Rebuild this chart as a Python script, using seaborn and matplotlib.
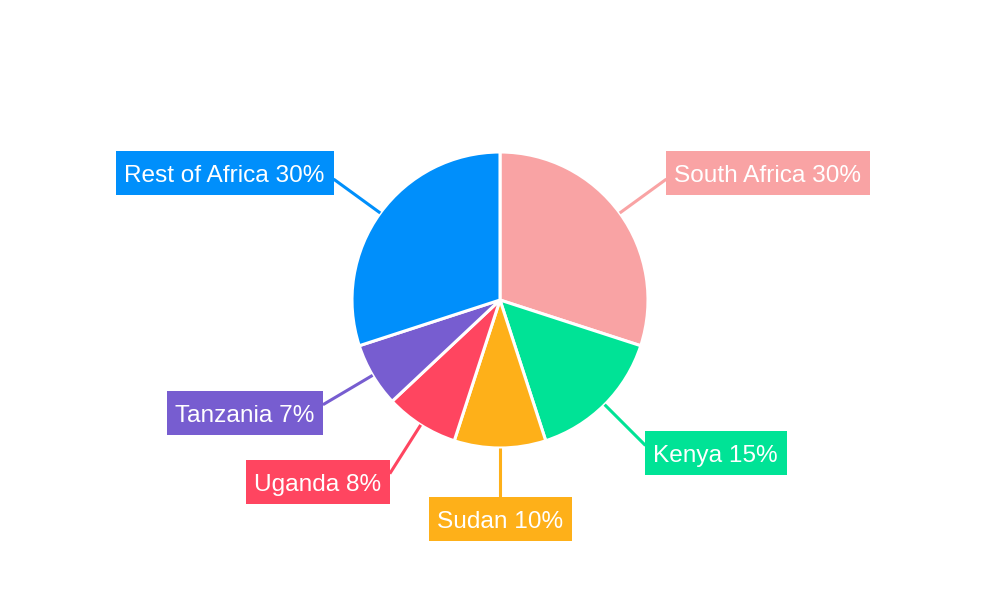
import numpy as np
import seaborn as sns
import matplotlib.pyplot as plt
from matplotlib import font_manager
from matplotlib.patches import Rectangle

# data
regions = ["South Africa", "Kenya", "Sudan", "Uganda", "Tanzania", "Rest of Africa"]
shares = [30, 15, 10, 8, 7, 30]
colors = ["#F9A3A4", "#00E396", "#FEB019", "#FF4560", "#775DD0", "#008FFB"]

sns.set_theme(style="white")
plt.rcParams["font.family"] = ["Liberation Sans", "DejaVu Sans"]

# make sure the regular (not narrow) Liberation Sans is used
reg = [f for f in font_manager.findSystemFonts() if f.endswith("LiberationSans-Regular.ttf")]
font = font_manager.FontProperties(fname=reg[0]) if reg else font_manager.FontProperties(family="Liberation Sans")
font.set_size(17.6)

W, H, R_PX = 1000, 600, 148
fig = plt.figure(figsize=(W / 100, H / 100), dpi=100)
ax = fig.add_axes([0, 0, 1, 1])

ax.pie(shares, colors=colors, startangle=90, counterclock=False, radius=1,
       wedgeprops=dict(edgecolor="white", linewidth=2.2))
ax.set_xlim(-W / 2 / R_PX, W / 2 / R_PX)
ax.set_ylim(-H / 2 / R_PX, H / 2 / R_PX)
ax.set_aspect("equal")
ax.axis("off")

texts = []
cum = 0
for name, s, col in zip(regions, shares, colors):
    mid = np.deg2rad(90 - 360 * (cum + s / 2) / sum(shares))
    cum += s
    c, sn = np.cos(mid), np.sin(mid)
    centre = abs(c) < 0.15
    r_end = 1.33 if centre else 1.39
    ex, ey = r_end * c, r_end * sn
    ax.plot([c, ex], [sn, ey], color=col, lw=2.2, solid_capstyle="butt", zorder=2)
    if centre:
        box_dy = -22
        dx, ha = 0, "center"
    else:
        box_dy = 6 if sn > 0 else -8
        dx, ha = (8, "left") if c > 0 else (-9, "right")
    t = ax.annotate(f"{name} {s}%", xy=(ex, ey), xytext=(dx, box_dy - 9),
                    textcoords="offset pixels", ha=ha, va="baseline",
                    color="white", fontproperties=font, zorder=4)
    texts.append((t, ex, ey, box_dy, col))

fig.canvas.draw()
renderer = fig.canvas.get_renderer()
inv = ax.transData.inverted()
for t, ex, ey, box_dy, col in texts:
    bb = t.get_window_extent(renderer)
    px, py = ax.transData.transform((ex, ey))
    cy = py + box_dy
    (x0, y0) = inv.transform((bb.x0 - 8, cy - 22))
    (x1, y1) = inv.transform((bb.x1 + 9, cy + 22))
    ax.add_patch(Rectangle((x0, y0), x1 - x0, y1 - y0, facecolor=col,
                           edgecolor="none", zorder=3))

ax.set_xlim(-W / 2 / R_PX, W / 2 / R_PX)
ax.set_ylim(-H / 2 / R_PX, H / 2 / R_PX)
fig.savefig("out.png", dpi=100)
